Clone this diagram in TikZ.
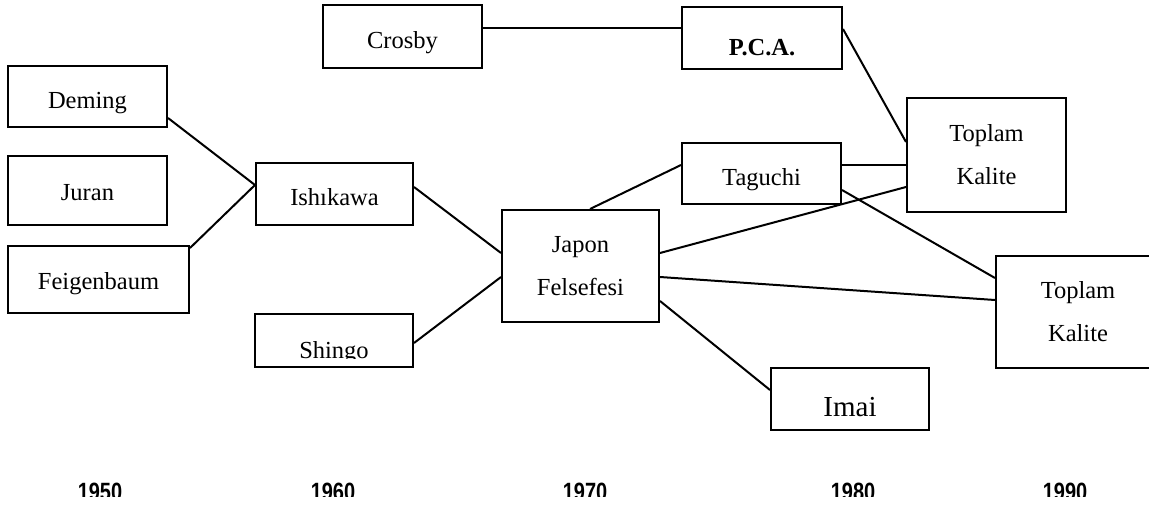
\documentclass[tikz,border=0pt]{standalone}
\usepackage{fontspec}
\setmainfont{Liberation Serif}
\newfontfamily\yearfont{Liberation Sans}
\begin{document}
\begin{tikzpicture}[x=1pt,y=-1pt,
  box/.style={draw,line width=2pt,rectangle,inner sep=0pt,
    font=\fontsize{24.5}{43}\selectfont},
  one/.style={text height=#1,text depth=0pt},
  link/.style={line width=2pt},
  year/.style={font=\yearfont\bfseries\fontsize{25}{25}\selectfont,
    inner sep=0pt,anchor=base,xscale=0.8}]
\useasboundingbox (0,0) rectangle (1149,506);

% 1950s
\node[box,one=23pt,minimum width=159pt,minimum height=61pt] (deming) at (87.5,96.5) {Deming};
\node[box,one=19pt,minimum width=159pt,minimum height=69pt] (juran) at (87.5,190.5) {Juran};
\node[box,one=19pt,minimum width=181pt,minimum height=67pt] (feigen) at (98.5,279.5) {Feigenbaum};

% 1960s
\node[box,one=22pt,minimum width=157pt,minimum height=62pt] (ishikawa) at (334.5,194) {Ishıkawa};
\node[box,minimum width=158pt,minimum height=53pt] (shingo) at (334,340.5) {};
\begin{scope}
  \clip (256,300) rectangle (412,358);
  \node[inner sep=0pt,anchor=base,font=\fontsize{24.5}{43}\selectfont] (shingotext) at (334,358) {Shingo};
\end{scope}
\node[box,one=23pt,minimum width=159pt,minimum height=63pt] (crosby) at (402.5,36.5) {Crosby};

% 1970s
\node[box,align=center,minimum width=157pt,minimum height=112pt] (japon) at (580.5,266) {Japon\\Felsefesi};
\node[box,one=34pt,minimum width=160pt,minimum height=62pt,font=\fontsize{24.5}{43}\selectfont\bfseries] (pca) at (762,38) {P.C.A.};
\node[box,one=23pt,minimum width=159pt,minimum height=61pt] (taguchi) at (761.5,173.5) {Taguchi};
\node[box,one=34pt,minimum width=158pt,minimum height=62pt,font=\fontsize{29}{35}\selectfont] (imai) at (850,399) {Imai};

% 1980s and 1990s
\node[box,align=center,minimum width=159pt,minimum height=114pt] (toplamA) at (986.5,155) {Toplam\\Kalite};
\node[box,align=center,minimum width=164pt,minimum height=112pt] (toplamB) at (1078,312) {Toplam\\Kalite};

% connections
\draw[link] ([yshift=-21.5pt]deming.east) -- ([yshift=9pt]ishikawa.west);
\draw[link] ([yshift=-3pt]feigen.north east) -- ([yshift=9pt]ishikawa.west);
\draw[link] ([yshift=7pt]ishikawa.east) -- ([yshift=13pt]japon.west);
\draw[link] ([yshift=-2.5pt]shingo.east) -- ([yshift=-11pt]japon.west);
\draw[link] ([xshift=9.5pt]japon.north) -- ([yshift=8.5pt]taguchi.west);
\draw[link] ([yshift=13pt]japon.east) -- ([yshift=-32pt]toplamA.west);
\draw[link] ([yshift=-11pt]japon.east) -- ([yshift=12pt]toplamB.west);
\draw[link] ([yshift=-35pt]japon.east) -- ([yshift=9pt]imai.west);
\draw[link] ([yshift=8.5pt]crosby.east) -- ([yshift=10pt]pca.west);
\draw[link] ([yshift=9pt]pca.east) -- ([yshift=13pt]toplamA.west);
\draw[link] ([yshift=8.5pt]taguchi.east) -- ([yshift=-10pt]toplamA.west);
\draw[link] ([yshift=-16.5pt]taguchi.east) -- ([yshift=34pt]toplamB.west);

% time axis labels, lower edge cut off
\begin{scope}
  \clip (0,470) rectangle (1149,496);
  \node[year] (y1950) at (100,500) {1950};
  \node[year] (y1960) at (333,500) {1960};
  \node[year] (y1970) at (585,500) {1970};
  \node[year] (y1980) at (853,500) {1980};
  \node[year] (y1990) at (1065,500) {1990};
\end{scope}
\end{tikzpicture}
\end{document}
